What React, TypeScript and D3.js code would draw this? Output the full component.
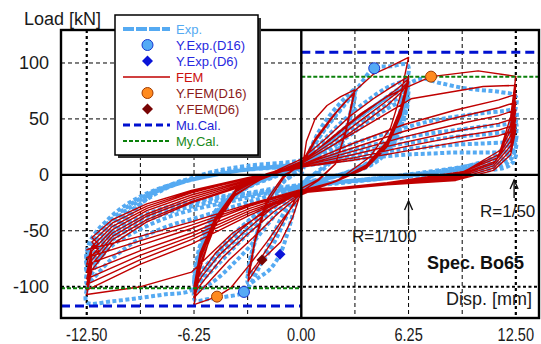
import React from 'react';
import * as d3 from 'd3';

type P = [number, number];

// Exp. hysteresis: R=1/200, 1/100 and 1/50 cycles
const expR200: P[] = [
  [0, 0], [0.4, 18], [1.0, 38], [1.6, 52], [2.2, 63], [2.7, 71], [3.1, 76],
  [2.9, 58], [2.5, 36], [1.9, 18], [1.2, 6], [0.5, -2],
  [0, -10], [-0.4, -30], [-0.8, -52], [-1.24, -71], [-1.8, -84], [-2.4, -91], [-3.1, -97],
  [-2.9, -74], [-2.5, -48], [-2.0, -26], [-1.3, -9], [-0.5, 0],
  [0, 6], [0.6, 22], [1.2, 37], [1.9, 52], [2.5, 63], [3.1, 72],
  [2.9, 54], [2.5, 33], [1.9, 15], [1.2, 4], [0.4, -3],
  [0, -9], [-0.6, -28], [-1.3, -52], [-2.0, -72], [-2.6, -84], [-3.1, -92],
  [-2.9, -70], [-2.4, -44], [-1.8, -22], [-1.0, -6], [-0.2, 3],
];

const expR100: P[] = [
  [0, 8], [0.8, 28], [1.6, 45], [2.5, 62], [3.3, 78], [4.25, 95.3], [5.2, 97], [6.2, 98],
  [6.0, 74], [5.6, 48], [5.0, 27], [4.0, 12], [2.8, 3], [1.5, -3], [0, -10],
  [-0.8, -28], [-1.6, -52], [-2.5, -84], [-3.34, -104.7], [-4.4, -109], [-5.4, -111], [-6.2, -112],
  [-6.0, -86], [-5.5, -56], [-4.8, -33], [-3.8, -16], [-2.5, -5], [-1.0, 4], [0, 9],
  [1.0, 26], [2.0, 42], [3.0, 56], [4.0, 68], [5.0, 78], [5.8, 83], [6.2, 85],
  [6.0, 63], [5.5, 38], [4.7, 19], [3.5, 7], [2.0, -1], [0, -9],
  [-1.0, -26], [-2.0, -45], [-3.0, -64], [-4.0, -80], [-5.0, -94], [-5.8, -102], [-6.2, -105],
  [-6.0, -80], [-5.5, -52], [-4.7, -30], [-3.5, -14], [-2.0, -3], [0, 8],
  [1.2, 24], [2.5, 40], [3.6, 54], [4.6, 65], [5.5, 73], [6.2, 78],
  [6.0, 57], [5.4, 33], [4.5, 16], [3.2, 5], [1.6, -3], [0, -9],
  [-1.2, -24], [-2.4, -42], [-3.6, -60], [-4.6, -76], [-5.5, -90], [-6.2, -99],
  [-6.0, -75], [-5.4, -48], [-4.5, -27], [-3.2, -12], [-1.6, -2], [0, 7],
  [1.3, 22], [2.6, 37], [3.8, 51], [4.9, 62], [5.7, 69], [6.2, 73],
  [6.0, 53], [5.4, 30], [4.5, 14], [3.2, 4], [1.6, -3], [0, -9],
  [-1.3, -22], [-2.6, -40], [-3.8, -58], [-4.9, -74], [-5.7, -87], [-6.2, -95],
  [-6.0, -72], [-5.4, -45], [-4.5, -25], [-3.2, -11], [-1.6, -1], [0, 7],
  [1.4, 21], [2.8, 35], [4.0, 49], [5.0, 59], [5.8, 66], [6.2, 70],
  [6.0, 50], [5.4, 28], [4.5, 13], [3.2, 3], [1.6, -3], [0, -9],
  [-1.4, -21], [-2.8, -38], [-4.0, -56], [-5.0, -72], [-5.8, -85], [-6.2, -92],
  [-6.0, -69], [-5.4, -43], [-4.5, -23], [-3.2, -10], [-1.6, 0], [0, 7],
];

const expR50: P[] = [
  [1.0, 22], [2.0, 35], [3.2, 50], [4.4, 63], [5.5, 75], [6.3, 82], [7.0, 86], [8.1, 82], [9.7, 77], [11.6, 74], [12.5, 70],
  [12.3, 48], [12.0, 30], [11.2, 16], [9.7, 8], [7.5, 2], [5.0, -3], [2.5, -7], [0, -12],
  [-1.5, -22], [-3.0, -40], [-4.5, -62], [-5.5, -85], [-6.4, -103], [-8.0, -107], [-9.4, -110], [-11.0, -113], [-12.5, -114],
  [-12.4, -97], [-12.0, -82], [-11.5, -67], [-10.8, -52], [-10.1, -38], [-9.2, -24], [-8.35, -14], [-7.3, -7], [-6.4, -3], [-5.1, 3], [-3.2, 8], [0, 13],
  [1.5, 20], [3.0, 28], [4.5, 35], [6.0, 42], [7.5, 48], [9.0, 52], [10.5, 55], [11.8, 57], [12.5, 58],
  [12.4, 40], [12.1, 26], [11.4, 15], [9.7, 8], [7.5, 3], [5.0, -2], [2.5, -6], [0, -11],
  [-1.5, -17], [-3.0, -24], [-4.5, -31], [-6.0, -38], [-7.6, -45], [-9.5, -58], [-11.1, -76], [-12.5, -97],
  [-12.4, -82], [-12.0, -70], [-11.5, -58], [-10.8, -45], [-10.0, -33], [-9.0, -22], [-8.0, -13], [-7.0, -7], [-5.5, 0], [-3.2, 6], [0, 11],
  [1.5, 17], [3.0, 23], [4.5, 28], [6.0, 33], [7.5, 37], [9.0, 40], [10.5, 43], [11.8, 45], [12.5, 46],
  [12.4, 30], [12.1, 19], [11.4, 11], [9.7, 6], [7.5, 2], [5.0, -2], [2.5, -6], [0, -10],
  [-1.5, -15], [-3.0, -20], [-4.5, -25], [-6.0, -30], [-7.6, -37], [-9.3, -48], [-11.0, -63], [-12.5, -86],
  [-12.4, -72], [-12.0, -61], [-11.4, -49], [-10.6, -37], [-9.7, -26], [-8.6, -16], [-7.4, -9], [-6.0, -3], [-3.5, 4], [0, 10],
  [1.5, 15], [3.0, 20], [4.5, 24], [6.0, 28], [7.5, 31], [9.0, 34], [10.5, 36], [11.8, 38], [12.5, 39],
  [12.4, 25], [12.1, 16], [11.4, 9], [9.7, 5], [7.5, 1], [5.0, -3], [2.5, -6], [0, -10],
  [-1.5, -14], [-3.0, -18], [-4.5, -22], [-6.0, -27], [-7.6, -33], [-9.3, -43], [-11.0, -58], [-12.5, -80],
  [-12.4, -67], [-12.0, -56], [-11.4, -45], [-10.6, -34], [-9.7, -24], [-8.6, -15], [-7.4, -8], [-6.0, -3], [-3.5, 4], [0, 9],
  [1.5, 13], [3.0, 17], [4.5, 20], [6.0, 23], [7.5, 25], [9.0, 27], [10.5, 28], [11.8, 29], [12.5, 30],
  [12.4, 19], [12.1, 12], [11.4, 7], [9.7, 4], [7.5, 1], [5.0, -3], [2.5, -6], [0, -9],
  [-1.5, -13], [-3.0, -17], [-4.5, -20], [-6.0, -24], [-7.6, -30], [-9.3, -39], [-11.0, -54], [-12.5, -75],
  [-12.4, -63], [-12.0, -52], [-11.4, -42], [-10.6, -31], [-9.7, -22], [-8.6, -14], [-7.4, -8], [-6.0, -3], [-3.5, 4], [0, 8],
  [1.5, 11], [3.0, 14], [4.5, 16], [6.0, 18], [7.5, 19], [9.0, 20], [10.5, 20], [11.8, 20], [12.5, 20],
  [12.4, 13], [12.1, 8], [11.4, 5], [9.7, 3], [7.5, 0], [5.0, -3], [2.5, -6], [0, -9],
  [-1.5, -12], [-3.0, -16], [-4.5, -19], [-6.0, -23], [-7.6, -28], [-9.3, -37], [-11.0, -51], [-12.5, -70],
];

// FEM hysteresis (piece-wise straight segments)
const femR200: P[] = [
  [0, 0], [0.3, 30], [0.8, 50], [1.5, 62], [2.3, 70], [3.1, 76],
  [2.6, 40], [2.0, 10], [1.0, -5], [0, -15],
  [-0.5, -38], [-1.2, -60], [-2.29, -76], [-3.1, -95],
  [-2.7, -60], [-2.0, -25], [-1.0, -2], [0, 10],
  [0.8, 32], [1.8, 52], [2.6, 66], [3.1, 73],
  [2.6, 38], [2.0, 10], [1.0, -4], [0, -12],
  [-0.8, -35], [-1.8, -62], [-2.6, -80], [-3.1, -90],
  [-2.7, -58], [-2.0, -22], [-1.0, 0], [0, 8],
];

const femR100: P[] = [
  [0.8, 30], [2.0, 55], [3.2, 76], [4.2, 90], [5.2, 97], [6.25, 105],
  [5.8, 72], [5.2, 42], [4.0, 16], [2.2, -4], [0, -18],
  [-1.0, -38], [-2.0, -60], [-3.0, -80], [-4.1, -101], [-4.91, -108.9], [-6.25, -116],
  [-5.9, -85], [-5.2, -50], [-4.0, -20], [-2.0, 0], [0, 14],
  [1.4, 32], [2.8, 52], [4.2, 68], [5.4, 80], [6.25, 88],
  [5.8, 60], [5.0, 30], [3.8, 9], [2.0, -6], [0, -17],
  [-1.4, -35], [-2.8, -56], [-4.2, -76], [-5.4, -96], [-6.25, -110],
  [-5.9, -80], [-5.0, -45], [-3.8, -17], [-2.0, -1], [0, 12],
  [1.6, 30], [3.2, 50], [4.6, 66], [5.6, 77], [6.25, 86],
  [5.8, 57], [5.0, 28], [3.8, 8], [2.0, -6], [0, -16],
  [-1.6, -33], [-3.2, -54], [-4.6, -74], [-5.6, -93], [-6.25, -106],
  [-5.9, -76], [-5.0, -42], [-3.8, -15], [-2.0, 0], [0, 11],
  [1.8, 29], [3.4, 48], [4.8, 64], [5.8, 76], [6.25, 84],
  [5.8, 55], [5.0, 26], [3.8, 7], [2.0, -6], [0, -15],
  [-1.8, -31], [-3.4, -52], [-4.8, -72], [-5.8, -91], [-6.25, -103],
  [-5.9, -73], [-5.0, -40], [-3.8, -14], [-2.0, 0], [0, 10],
  [2.0, 28], [3.6, 46], [5.0, 62], [5.9, 75], [6.25, 83],
  [5.8, 53], [5.0, 25], [3.8, 6], [2.0, -6], [0, -14],
  [-2.0, -30], [-3.6, -50], [-5.0, -70], [-5.9, -89], [-6.25, -100],
  [-5.9, -70], [-5.0, -38], [-3.8, -13], [-2.0, 1], [0, 10],
];

const femR50: P[] = [
  [1.5, 30], [3.5, 55], [5.0, 70], [6.4, 80], [7.56, 87.8], [10.3, 93], [12.5, 88],
  [12.2, 52], [11.6, 22], [9.5, 3], [5.0, -7], [0, -15],
  [-2.0, -32], [-4.0, -52], [-6.4, -87], [-9.35, -100], [-12.5, -107],
  [-12.2, -85], [-11.0, -62], [-9.0, -42], [-6.4, -25], [-3.0, -8], [0, 10],
  [2.0, 28], [4.0, 46], [6.4, 68], [10.6, 79], [12.5, 80],
  [12.2, 45], [11.5, 18], [9.2, 1], [5.0, -8], [0, -16],
  [-3.0, -36], [-6.4, -62], [-9.4, -80], [-12.5, -103],
  [-12.2, -80], [-11.0, -58], [-9.0, -40], [-6.4, -24], [-3.0, -7], [0, 9],
  [3.0, 28], [6.0, 45], [9.0, 58], [11.5, 67], [12.5, 72],
  [12.2, 40], [11.4, 15], [9.0, 0], [5.0, -9], [0, -16],
  [-3.0, -34], [-6.4, -58], [-9.4, -76], [-12.5, -98],
  [-12.2, -76], [-11.0, -55], [-9.0, -37], [-6.4, -22], [-3.0, -6], [0, 9],
  [3.0, 24], [6.0, 39], [9.0, 51], [11.5, 60], [12.5, 65],
  [12.2, 35], [11.3, 12], [9.0, -1], [5.0, -9], [0, -16],
  [-3.0, -32], [-6.4, -55], [-9.4, -72], [-12.5, -93],
  [-12.2, -72], [-11.0, -52], [-9.0, -35], [-6.4, -20], [-3.0, -5], [0, 8],
  [3.0, 21], [6.0, 34], [9.0, 45], [11.5, 53], [12.5, 58],
  [12.2, 30], [11.2, 10], [9.0, -2], [5.0, -9], [0, -15],
  [-3.0, -30], [-6.4, -52], [-9.4, -68], [-12.5, -87],
  [-12.2, -68], [-11.0, -49], [-9.0, -32], [-6.4, -18], [-3.0, -4], [0, 8],
  [3.0, 18], [6.0, 29], [9.0, 39], [11.5, 46], [12.5, 51],
  [12.2, 26], [11.2, 8], [9.0, -3], [5.0, -9], [0, -14],
  [-3.0, -28], [-6.4, -48], [-9.4, -63], [-12.5, -80],
  [-12.2, -64], [-11.0, -46], [-9.0, -30], [-6.4, -16], [-3.0, -3], [0, 7],
  [3.0, 15], [6.0, 25], [9.0, 34], [11.5, 40], [12.5, 45],
  [12.2, 22], [11.2, 6], [9.0, -4], [5.0, -9], [0, -14],
  [-3.0, -27], [-6.4, -45], [-9.4, -59], [-12.5, -74],
  [-11.8, -68], [-12.2, -60], [-11.0, -43], [-9.0, -28], [-6.4, -15], [-3.0, -3], [0, 7],
  [3.0, 13], [6.0, 21], [9.0, 29], [11.5, 35], [12.5, 40],
  [12.2, 18], [11.2, 4], [9.0, -5], [5.0, -9], [0, -13],
  [-3.0, -26], [-6.4, -42], [-9.4, -55], [-12.5, -67],
  [-11.8, -62], [-12.2, -56], [-11.0, -40], [-9.0, -26], [-6.4, -14], [-3.0, -2], [0, 6],
];

const yExpD16: P[] = [[4.25, 95.3], [-3.34, -104.7]];
const yExpD6: P[] = [[-1.24, -71]];
const yFemD16: P[] = [[7.56, 87.8], [-4.91, -108.9]];
const yFemD6: P[] = [[-2.29, -76.1]];
const muCal = [109.5, -117.3];
const myCal = [87.8, -101.4];

const xTicks = [-12.5, -6.25, 0, 6.25, 12.5];
const xTickLabels = ['-12.50', '-6.25', '0.00', '6.25', '12.50'];
const xGrid = [-12.5, -9.375, -6.25, -3.125, 3.125, 6.25, 9.375, 12.5];
const yTicks = [100, 50, 0, -50, -100];
const yGrid = [100, 50, -50, -100];

const C = {
  exp: '#55AAF2',
  expDot: '#55AAF5',
  expDotStroke: '#1838D0',
  expD6: '#0A14D8',
  fem: '#C00000',
  femDot: '#FF8A1F',
  femDotStroke: '#A03A00',
  femD6: '#780404',
  mu: '#0010D0',
  my: '#0A800A',
};

const font = '"Liberation Sans", Arial, Helvetica, sans-serif';
const L = 61, R = 539, T = 30, B = 318;

function diamond(cx: number, cy: number, r: number) {
  return `M${cx},${cy - r}L${cx + r},${cy}L${cx},${cy + r}L${cx - r},${cy}Z`;
}

export default function App() {
  const x = d3.scaleLinear().domain([-14, 13.85]).range([L, R]);
  const y = d3.scaleLinear().domain([-128, 129.5]).range([B, T]);

  const expLine = d3.line<P>().x(d => x(d[0])).y(d => y(d[1])).curve(d3.curveCatmullRom.alpha(0.5));
  const femLine = d3.line<P>().x(d => x(d[0])).y(d => y(d[1]));

  const expAll = [...expR200, ...expR100, ...expR50];
  const femAll = [...femR200, ...femR100, ...femR50];

  const arrow = (ax: number, y0: number, y1: number) => (
    <g stroke="#111" strokeWidth={1.4} fill="none">
      <line x1={ax} x2={ax} y1={y0} y2={y1} />
      <path d={`M${ax - 4},${y1 + 9}L${ax},${y1}L${ax + 4},${y1 + 9}`} />
    </g>
  );

  const legendRows = [
    { label: 'Exp.', color: C.exp, kind: 'exp' },
    { label: 'Y.Exp.(D16)', color: '#2828E0', kind: 'expDot' },
    { label: 'Y.Exp.(D6)', color: '#2828E0', kind: 'expD6' },
    { label: 'FEM', color: '#CC1010', kind: 'fem' },
    { label: 'Y.FEM(D16)', color: '#8A1A1A', kind: 'femDot' },
    { label: 'Y.FEM(D6)', color: '#8A1A1A', kind: 'femD6' },
    { label: 'Mu.Cal.', color: '#1E1ED8', kind: 'mu' },
    { label: 'My.Cal.', color: '#1A8A1A', kind: 'my' },
  ];

  return (
    <svg width={541} height={344} style={{ position: 'absolute', left: 0, top: 0, background: '#fff' }}
      fontFamily={font}>
      <defs>
        <clipPath id="plotClip">
          <rect x={L} y={T} width={R - L} height={B - T} />
        </clipPath>
      </defs>
      <rect x={0} y={0} width={541} height={344} fill="#fff" />

      {/* grid */}
      <g stroke="#000" fill="none">
        {xGrid.map(v => {
          const heavy = Math.abs(v) === 12.5;
          return <line key={'gx' + v} x1={x(v)} x2={x(v)} y1={T} y2={B}
            strokeWidth={heavy ? 2.2 : 1} strokeDasharray={heavy ? '3 3' : '4 3'} />;
        })}
        {yGrid.map(v => {
          const heavy = v === -100;
          return <line key={'gy' + v} x1={L} x2={R} y1={y(v)} y2={y(v)}
            strokeWidth={heavy ? 2 : 1} strokeDasharray={heavy ? '3 2.5' : '4 3'} />;
        })}
      </g>

      <g clipPath="url(#plotClip)">
        <path d={expLine(expAll) || ''} fill="none" stroke={C.exp} strokeWidth={4}
          strokeDasharray="4 2.5" />
        <path d={femLine(femAll) || ''} fill="none" stroke={C.fem} strokeWidth={1.4}
          strokeLinejoin="round" />
        {/* calculated strengths */}
        <line x1={x(0)} x2={R} y1={y(muCal[0])} y2={y(muCal[0])} stroke={C.mu} strokeWidth={3} strokeDasharray="9 5" />
        <line x1={L} x2={x(0)} y1={y(muCal[1])} y2={y(muCal[1])} stroke={C.mu} strokeWidth={3} strokeDasharray="9 5" />
        <line x1={x(0)} x2={R} y1={y(myCal[0])} y2={y(myCal[0])} stroke={C.my} strokeWidth={2} strokeDasharray="4 2" />
        <line x1={L} x2={x(0)} y1={y(myCal[1])} y2={y(myCal[1])} stroke={C.my} strokeWidth={2} strokeDasharray="4 2" />
      </g>

      {/* zero axes and frame */}
      <line x1={L} x2={R} y1={y(0)} y2={y(0)} stroke="#000" strokeWidth={2.4} />
      <line x1={x(0)} x2={x(0)} y1={T} y2={B} stroke="#000" strokeWidth={2.4} />
      <rect x={L} y={T} width={R - L} height={B - T} fill="none" stroke="#000" strokeWidth={2.4} />

      {/* yield markers */}
      {yExpD16.map((d, i) => (
        <circle key={'ed' + i} cx={x(d[0])} cy={y(d[1])} r={5.5} fill={C.expDot} stroke={C.expDotStroke} strokeWidth={1} />
      ))}
      {yFemD16.map((d, i) => (
        <circle key={'fd' + i} cx={x(d[0])} cy={y(d[1])} r={5.5} fill={C.femDot} stroke={C.femDotStroke} strokeWidth={1} />
      ))}
      {yExpD6.map((d, i) => <path key={'e6' + i} d={diamond(x(d[0]), y(d[1]), 5.5)} fill={C.expD6} />)}
      {yFemD6.map((d, i) => <path key={'f6' + i} d={diamond(x(d[0]), y(d[1]), 5.5)} fill={C.femD6} />)}

      {/* tick labels */}
      <g fontSize={18} fill="#1a1a1a">
        {yTicks.map(v => (
          <text key={'yt' + v} x={49} y={y(v)} dy="0.36em" textAnchor="end">{v}</text>
        ))}
        {xTicks.map((v, i) => (
          <text key={'xt' + v} transform={`translate(${x(v)},341) scale(0.81,1)`} textAnchor="middle">
            {xTickLabels[i]}
          </text>
        ))}
        <text x={24} y={25}>Load [kN]</text>
        <text x={446} y={305}>Disp. [mm]</text>
      </g>

      {/* annotations */}
      {arrow(x(6.25), 225, 201)}
      {arrow(x(12.4), 198, 180)}
      <g fontSize={17} fill="#1a1a1a">
        <text x={352} y={242}>R=1/100</text>
        <text x={480} y={217}>R=1/50</text>
      </g>
      <text x={427} y={269} fontSize={18} fontWeight="bold" fill="#111">Spec. Bo65</text>

      {/* legend */}
      <rect x={118} y={18} width={143} height={140} fill="#333" />
      <rect x={115} y={15} width={143} height={140} fill="#fff" stroke="#000" strokeWidth={1.5} />
      {legendRows.map((r, i) => {
        const cy = 29 + i * 16;
        let sym: React.ReactNode = null;
        if (r.kind === 'exp') sym = <line x1={123} x2={170} y1={cy} y2={cy} stroke={C.exp} strokeWidth={4} strokeDasharray="11 2" />;
        if (r.kind === 'fem') sym = <line x1={123} x2={170} y1={cy} y2={cy} stroke={C.fem} strokeWidth={1.6} />;
        if (r.kind === 'mu') sym = <line x1={123} x2={170} y1={cy} y2={cy} stroke={C.mu} strokeWidth={3} strokeDasharray="7 4" />;
        if (r.kind === 'my') sym = <line x1={123} x2={170} y1={cy} y2={cy} stroke={C.my} strokeWidth={2} strokeDasharray="4 2" />;
        if (r.kind === 'expDot') sym = <circle cx={147.5} cy={cy} r={5.5} fill={C.expDot} stroke={C.expDotStroke} strokeWidth={1} />;
        if (r.kind === 'femDot') sym = <circle cx={147.5} cy={cy} r={5.5} fill={C.femDot} stroke={C.femDotStroke} strokeWidth={1} />;
        if (r.kind === 'expD6') sym = <path d={diamond(147.5, cy, 5.5)} fill={C.expD6} />;
        if (r.kind === 'femD6') sym = <path d={diamond(147.5, cy, 5.5)} fill={C.femD6} />;
        return (
          <g key={r.label}>
            {sym}
            <text x={176} y={cy} dy="0.36em" fontSize={13} fill={r.color}>{r.label}</text>
          </g>
        );
      })}
    </svg>
  );
}
